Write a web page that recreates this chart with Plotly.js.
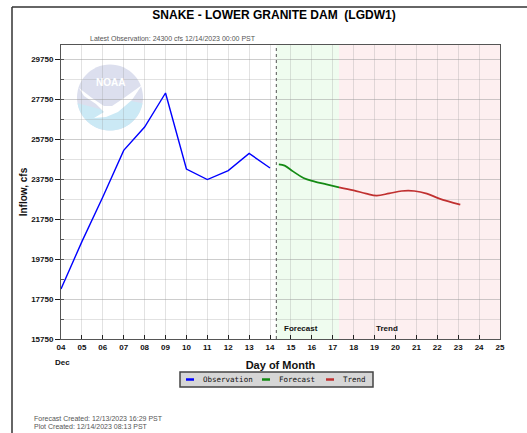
<!DOCTYPE html>
<html><head><meta charset="utf-8">
<script src="https://cdn.plot.ly/plotly-3.0.1.min.js"></script>
<style>html,body{margin:0;padding:0;background:#fff}#chart{width:527px;height:433px}</style>
</head><body><div id="chart"></div>
<script>
// ---- data ----
const obsDays   = [4, 5, 6, 7, 8, 9, 10, 11, 12, 13, 14];
const obsFlow   = [18250, 20620, 22850, 25180, 26350, 28050, 24250, 23720, 24170, 25030, 24300];
const fcstDays  = [14.42, 14.7, 15.1, 15.6, 16.1, 16.7, 17.3];
const fcstFlow  = [24480, 24420, 24130, 23800, 23630, 23480, 23330];
const trendDays = [17.3, 18.0, 18.6, 19.1, 19.7, 20.3, 20.9, 21.5, 22.1, 23.1];
const trendFlow = [23330, 23180, 23020, 22920, 23030, 23150, 23150, 23020, 22770, 22470];
const dayTicks  = [4,5,6,7,8,9,10,11,12,13,14,15,16,17,18,19,20,21,22,23,24,25];
const dayLabels = ["04","05","06","07","08","09","10","11","12","13","14","15","16","17","18","19","20","21","22","23","24","25"];
const flowTicks = [15750, 17750, 19750, 21750, 23750, 25750, 27750, 29750];
const flowLabels = ["15750","17750","19750","21750","23750","25750","27750","29750"];
const seriesNames = ["Observation", "Forecast", "Trend"];
const seriesColors = ["#0000ff", "#138a13", "#c03030"];
const nowDay = 14.3;        // plot created / latest marker
const forecastEnd = 17.3;   // end of forecast window
const xRange = [4, 25];
const yRange = [15750, 30450];

// ---- layout helpers (pixel -> paper) ----
const W = 527, H = 433, L = 61, R = 27, T = 45, B = 94;
const PW = W - L - R, PH = H - T - B;
const px = x => (x - L) / PW;
const py = y => (H - B - y) / PH;

const font = 'Liberation Sans, Arial, sans-serif';

function polyPath(pts) {
  return 'M' + pts.map(p => px(p[0]).toFixed(4) + ',' + py(p[1]).toFixed(4)).join('L') + 'Z';
}
function arcPts(cx, cy, r, a0, a1, n) {
  const out = [];
  for (let i = 0; i <= n; i++) {
    const a = (a0 + (a1 - a0) * i / n) * Math.PI / 180;
    out.push([cx + r * Math.cos(a), cy + r * Math.sin(a)]);
  }
  return out;
}
// NOAA logo (decorative)
const cx = 110, cy = 97.5, r = 33;
const logoCircle = arcPts(cx, cy, r, 0, 360, 60);
const blueRegion = arcPts(cx, cy, r, 10, 170, 40).concat([[96, 108], [110, 112], [126, 100]]);
const bird = [[79, 88], [92, 98], [104, 106], [112, 106], [124, 98], [142, 85], [132, 100], [118, 112], [106, 117], [94, 118], [104, 112], [96, 104], [84, 96]];

const traces = [
  {x: obsDays, y: obsFlow, name: seriesNames[0], mode: 'lines', line: {color: seriesColors[0], width: 1.4}},
  {x: fcstDays, y: fcstFlow, name: seriesNames[1], mode: 'lines', line: {color: seriesColors[1], width: 1.7, shape: 'spline', smoothing: 1}},
  {x: trendDays, y: trendFlow, name: seriesNames[2], mode: 'lines', line: {color: seriesColors[2], width: 1.7, shape: 'spline', smoothing: 1}}
];

const shapes = [
  {type: 'rect', xref: 'x', yref: 'paper', x0: nowDay, x1: forecastEnd, y0: 0, y1: 1, fillcolor: '#effcef', line: {width: 0}, layer: 'below'},
  {type: 'rect', xref: 'x', yref: 'paper', x0: forecastEnd, x1: xRange[1], y0: 0, y1: 1, fillcolor: '#fdeff0', line: {width: 0}, layer: 'below'},
  {type: 'path', xref: 'paper', yref: 'paper', path: polyPath(logoCircle), fillcolor: '#dcdfee', line: {width: 0}, layer: 'below'},
  {type: 'path', xref: 'paper', yref: 'paper', path: polyPath(blueRegion), fillcolor: '#cbe9f5', line: {width: 0}, layer: 'below'},
  {type: 'path', xref: 'paper', yref: 'paper', path: polyPath(bird), fillcolor: '#ffffff', line: {width: 0}, layer: 'below'},
  {type: 'line', xref: 'x', yref: 'paper', x0: nowDay, x1: nowDay, y0: 0, y1: 1, line: {color: '#555', width: 1, dash: 'dot'}},
  // outer frame
  {type: 'line', xref: 'paper', yref: 'paper', x0: px(12), x1: px(12), y0: py(7), y1: py(433), line: {color: '#333', width: 1.5}},
  {type: 'line', xref: 'paper', yref: 'paper', x0: px(12), x1: px(527), y0: py(7), y1: py(7), line: {color: '#333', width: 1.5}},
  // legend box
  {type: 'rect', xref: 'paper', yref: 'paper', x0: px(180), x1: px(373), y0: py(387), y1: py(372), fillcolor: '#d6d6d6', line: {color: '#444', width: 1.5}}
];

const annotations = [
  {xref: 'paper', yref: 'paper', x: px(88), y: py(38), xanchor: 'left', yanchor: 'middle', showarrow: false,
   text: 'Latest Observation: 24300 cfs 12/14/2023 00:00 PST', font: {family: font, size: 7, color: '#555'}},
  {xref: 'paper', yref: 'paper', x: px(110), y: py(82), xanchor: 'center', yanchor: 'middle', showarrow: false,
   text: 'NOAA', font: {family: font, size: 10, color: '#ffffff', weight: 'bold'}},
  {xref: 'x', yref: 'paper', x: 15.5, y: py(328), xanchor: 'center', yanchor: 'middle', showarrow: false,
   text: 'Forecast', font: {family: font, size: 8, color: '#111', weight: 'bold'}},
  {xref: 'x', yref: 'paper', x: 19.6, y: py(328), xanchor: 'center', yanchor: 'middle', showarrow: false,
   text: 'Trend', font: {family: font, size: 8, color: '#111', weight: 'bold'}},
  {xref: 'paper', yref: 'paper', x: px(62), y: py(362), xanchor: 'center', yanchor: 'middle', showarrow: false,
   text: 'Dec', font: {family: font, size: 8, color: '#111', weight: 'bold'}},
  {xref: 'paper', yref: 'paper', x: px(32), y: py(418.5), xanchor: 'left', yanchor: 'middle', showarrow: false,
   text: 'Forecast Created: 12/13/2023 16:29 PST', font: {family: font, size: 7, color: '#555'}},
  {xref: 'paper', yref: 'paper', x: px(32), y: py(426.5), xanchor: 'left', yanchor: 'middle', showarrow: false,
   text: 'Plot Created: 12/14/2023 08:13 PST', font: {family: font, size: 7, color: '#555'}}
];

// compact legend entries (sample line + label)
const legendSampleX = [186, 262, 326];
const legendTextX = [201, 277, 341];
seriesNames.forEach((nm, i) => {
  shapes.push({type: 'line', xref: 'paper', yref: 'paper', x0: px(legendSampleX[i]), x1: px(legendSampleX[i] + 8),
               y0: py(379.5), y1: py(379.5), line: {color: seriesColors[i], width: 2.5}});
  annotations.push({xref: 'paper', yref: 'paper', x: px(legendTextX[i]), y: py(379.5), xanchor: 'left', yanchor: 'middle',
                    showarrow: false, text: nm, font: {family: 'DejaVu Sans Mono, monospace', size: 7.5, color: '#111'}});
});

const layout = {
  width: W, height: H,
  margin: {l: L, r: R, t: T, b: B, pad: 0},
  paper_bgcolor: '#ffffff', plot_bgcolor: 'rgba(0,0,0,0)',
  showlegend: false,
  title: {text: 'SNAKE - LOWER GRANITE DAM  (LGDW1)', x: 274 / W, xanchor: 'center', xref: 'container',
          y: 1 - 15 / H, yanchor: 'middle', yref: 'container', font: {family: font, size: 12, color: '#000', weight: 'bold'}},
  xaxis: {range: xRange, tickmode: 'array', tickvals: dayTicks, ticktext: dayLabels,
          ticks: 'inside', ticklen: 4, tickcolor: '#222', tickwidth: 1,
          showgrid: true, gridcolor: 'rgba(150,150,150,0.28)', gridwidth: 1,
          showline: true, linecolor: '#555', linewidth: 1, mirror: true, zeroline: false,
          tickfont: {family: font, size: 8, color: '#111', weight: 'bold'},
          title: {text: 'Day of Month', font: {family: font, size: 11, color: '#111', weight: 'bold'}, standoff: 10}},
  yaxis: {range: yRange, tickmode: 'array', tickvals: flowTicks, ticktext: flowLabels,
          ticks: 'outside', ticklen: 5, tickcolor: '#222',
          minor: {dtick: 1000, tick0: 15750, ticks: 'inside', ticklen: 3, tickcolor: '#555', showgrid: true, gridcolor: 'rgba(150,150,150,0.28)'},
          showgrid: true, gridcolor: 'rgba(150,150,150,0.28)',
          showline: true, linecolor: '#555', linewidth: 1, mirror: true, zeroline: false,
          tickfont: {family: font, size: 8, color: '#111', weight: 'bold'},
          title: {text: 'Inflow, cfs', font: {family: font, size: 10, color: '#111', weight: 'bold'}, standoff: 1}},
  shapes: shapes,
  annotations: annotations
};

Plotly.newPlot('chart', traces, layout, {displayModeBar: false, staticPlot: true});
</script></body></html>
